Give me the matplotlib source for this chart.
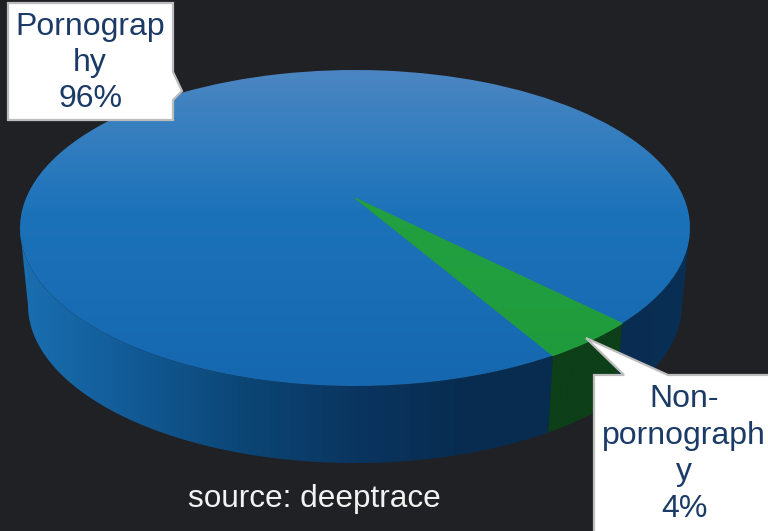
import numpy as np
import matplotlib
matplotlib.use('Agg')
import matplotlib.pyplot as plt
from matplotlib.colors import LinearSegmentedColormap
from matplotlib.patches import Polygon
from matplotlib.transforms import Transform

# datos del grafico
categories = ['Pornograp\nhy', 'Non-\npornograph\ny']
values = [96, 4]
source_text = 'source: deeptrace'

plt.rcParams['font.family'] = ['Liberation Sans', 'DejaVu Sans']

BG = '#202125'
TEXT = '#1b3b66'
EDGE = '#bdbdbd'
START = -45.4

# elipse de arriba y de abajo en pixeles
CX, A = 355, 335
CY_TOP, CY_BOT = 228, 305
A_BOT = 327
B = 158
D = 0.19  # perspectiva


def project(u, v, cy=CY_TOP, a=A):
    s = np.sqrt(1 - D ** 2)
    return CX + a * u * s / (1 + D * v), cy - B * (v + D) / (1 + D * v)


class Perspective(Transform):
    input_dims = 2
    output_dims = 2
    has_inverse = False

    def transform_non_affine(self, xy):
        xy = np.asarray(xy, dtype=float)
        x, y = project(xy[:, 0], xy[:, 1])
        return np.column_stack([x, y])


fig = plt.figure(figsize=(7.68, 5.31), dpi=100, facecolor=BG)
ax = fig.add_axes([0, 0, 1, 1])

top_colors = [
    LinearSegmentedColormap.from_list('b', [(0, '#4c86c2'), (0.3, '#2a7abd'), (0.45, '#1c72b9'), (1, '#1568b0')]),
    LinearSegmentedColormap.from_list('g', ['#2a9e48', '#22a040', '#1f9a3c']),
]
wall_colors = [
    LinearSegmentedColormap.from_list('bw', ['#1a6fb0', '#125a96', '#0c4675', '#0a3560', '#082c50', '#082c50', '#0a2f54']),
    LinearSegmentedColormap.from_list('gw', ['#0d3f18', '#0d3f18']),
]
edge_green = '#22a040'

wedges, _ = ax.pie(values, startangle=START, radius=1, counterclock=True,
                   wedgeprops={'transform': Perspective() + ax.transData, 'linewidth': 0})

ax.set_aspect('auto')
ax.set_xlim(0, 768)
ax.set_ylim(531, 0)
ax.axis('off')

# paredes laterales, solo la parte que se ve de frente
angle = START
for i, val in enumerate(values):
    sweep = 360 * val / sum(values)
    th = np.radians(np.linspace(angle, angle + sweep, 720))
    visible = np.sin(th) <= -D
    # separar en tramos continuos
    idx = np.where(visible)[0]
    for run in np.split(idx, np.where(np.diff(idx) > 1)[0] + 1):
        if len(run) < 2:
            continue
        t = th[run]
        tx, ty = project(np.cos(t), np.sin(t))
        bx, by = project(np.cos(t), np.sin(t), CY_BOT, A_BOT)
        poly = Polygon(np.column_stack([np.r_[tx, bx[::-1]], np.r_[ty, by[::-1]]]),
                       closed=True, transform=ax.transData, fc='none', ec='none')
        ax.add_patch(poly)
        im = ax.imshow(np.linspace(0, 1, 256).reshape(1, -1), extent=(20, 690, 531, 0),
                       cmap=wall_colors[i], aspect='auto', zorder=1)
        im.set_clip_path(poly)
    angle += sweep

# cara superior con degradado
for i, w in enumerate(wedges):
    w.set_facecolor('none')
    im = ax.imshow(np.linspace(0, 1, 256).reshape(-1, 1), extent=(0, 768, 386, 70),
                   cmap=top_colors[i], aspect='auto', origin='upper', zorder=2)
    im.set_clip_path(w)
# tapa la junta entre las dos caras
wedges[1].set_edgecolor(edge_green)
wedges[1].set_linewidth(0.8)
wedges[1].set_zorder(3)

ax.set_xlim(0, 768)
ax.set_ylim(531, 0)

# cajas de las etiquetas
box1 = [(8, 3), (173, 3), (173, 72), (182, 91), (173, 100), (173, 120), (8, 120)]
box2 = [(594, 375), (624, 375), (586, 338), (668, 375), (780, 375), (780, 540), (594, 540)]
for pts in (box1, box2):
    ax.add_patch(Polygon(pts, closed=True, fc='white', ec=EDGE, lw=1.6, zorder=5))

ax.text(90, 63, f'{categories[0]}\n{values[0]}%', ha='center', va='center', color=TEXT,
        fontsize=23, linespacing=1.28, zorder=6)
ax.text(684, 454, f'{categories[1]}\n{values[1]}%', ha='center', va='center', color=TEXT,
        fontsize=23, linespacing=1.28, zorder=6)
ax.text(314, 499, source_text, ha='center', va='center', color='#f2f2f2', fontsize=22.7)

fig.savefig('out.png', dpi=100, facecolor=BG)
